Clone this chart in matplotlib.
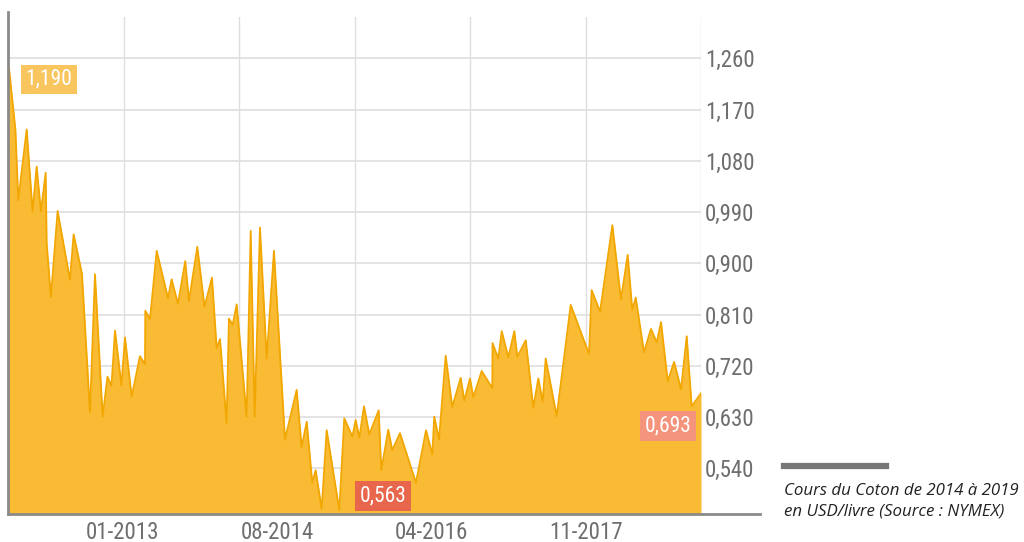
import numpy as np
import matplotlib
matplotlib.use("Agg")
import matplotlib.pyplot as plt
from matplotlib import font_manager

# cotton price (USD / lb), x in decimal years
dates = [
    2011.800, 2011.878, 2011.907, 2011.995, 2012.057, 2012.099, 2012.144, 2012.193,
    2012.204, 2012.248, 2012.318, 2012.447, 2012.485, 2012.572, 2012.656, 2012.708,
    2012.788, 2012.838, 2012.880, 2012.917, 2012.984, 2013.021, 2013.091, 2013.177,
    2013.230, 2013.233, 2013.282, 2013.352, 2013.470, 2013.508, 2013.574, 2013.650,
    2013.689, 2013.776, 2013.851, 2013.929, 2013.978, 2014.013, 2014.082, 2014.106,
    2014.145, 2014.187, 2014.291, 2014.333, 2014.375, 2014.430, 2014.500, 2014.576,
    2014.691, 2014.813, 2014.865, 2014.918, 2014.976, 2015.011, 2015.074, 2015.126,
    2015.258, 2015.310, 2015.394, 2015.429, 2015.467, 2015.516, 2015.571, 2015.669,
    2015.696, 2015.769, 2015.811, 2015.891, 2016.058, 2016.163, 2016.229, 2016.249,
    2016.299, 2016.368, 2016.437, 2016.525, 2016.563, 2016.622, 2016.657, 2016.744,
    2016.855, 2016.857, 2016.918, 2016.953, 2017.022, 2017.085, 2017.116, 2017.204,
    2017.283, 2017.335, 2017.381, 2017.412, 2017.527, 2017.673, 2017.864, 2017.892,
    2017.979, 2018.108, 2018.198, 2018.268, 2018.316, 2018.352, 2018.438, 2018.511,
    2018.571, 2018.616, 2018.686, 2018.752, 2018.825, 2018.884, 2018.936, 2019.033,
]
prices = [
    1.260, 1.134, 1.011, 1.135, 0.991, 1.070, 0.991, 1.059,
    0.935, 0.841, 0.992, 0.871, 0.951, 0.882, 0.639, 0.881,
    0.631, 0.701, 0.685, 0.782, 0.686, 0.770, 0.666, 0.737,
    0.723, 0.817, 0.802, 0.922, 0.839, 0.872, 0.829, 0.904,
    0.834, 0.929, 0.824, 0.875, 0.751, 0.767, 0.620, 0.803,
    0.792, 0.828, 0.631, 0.957, 0.631, 0.963, 0.733, 0.922,
    0.591, 0.678, 0.577, 0.622, 0.515, 0.537, 0.469, 0.607,
    0.467, 0.628, 0.596, 0.625, 0.594, 0.649, 0.600, 0.642,
    0.537, 0.608, 0.572, 0.602, 0.515, 0.607, 0.565, 0.631,
    0.591, 0.738, 0.648, 0.699, 0.659, 0.698, 0.665, 0.711,
    0.681, 0.760, 0.733, 0.781, 0.735, 0.781, 0.736, 0.765,
    0.647, 0.698, 0.657, 0.733, 0.632, 0.827, 0.741, 0.853,
    0.815, 0.967, 0.837, 0.915, 0.818, 0.840, 0.744, 0.785,
    0.761, 0.797, 0.693, 0.727, 0.679, 0.772, 0.649, 0.672,
]

x_tick_pos = [2013.0, 2014.611, 2016.222, 2017.833]
x_tick_labels = ["01-2013", "08-2014", "04-2016", "11-2017"]
y_ticks = [0.540, 0.630, 0.720, 0.810, 0.900, 0.990, 1.080, 1.170, 1.260]

# value callouts: text, x, y, box colour
callout_text = ["1,190", "0,563", "0,693"]
callout_x = [2012.228, 2015.714, 2018.689]
callout_y = [1.223, 0.492, 0.614]
callout_col = ["#F9C55E", "#E8664B", "#F4947C"]

XMIN, XMAX = 2011.800, 2019.033
YMIN, YMAX = 0.460, 1.3325

FILL = "#F9BB33"
LINE = "#F2A600"
GRID = "#DEDEDE"
AXIS = "#8A8A8A"
TXT = "#6E6E6E"

installed = {f.name for f in font_manager.fontManager.ttflist}
COND = next((f for f in ["Roboto Condensed", "Liberation Sans Narrow"] if f in installed), "Roboto")
plt.rcParams["font.family"] = [COND, "DejaVu Sans"]

fig = plt.figure(figsize=(10.24, 5.42), dpi=100)
ax = fig.add_axes([8 / 1024, 1 - 514 / 542, 693 / 1024, 497 / 542])

ax.fill_between(dates, prices, YMIN, color=FILL, lw=0, zorder=2)
ax.plot(dates, prices, color=LINE, lw=1.3, zorder=3)

ax.set_xlim(XMIN, XMAX)
ax.set_ylim(YMIN, YMAX)

for s in ax.spines.values():
    s.set_visible(False)

# vertical grid split in 6 equal parts, labels sit elsewhere
ax.set_xticks(np.linspace(XMIN, XMAX, 7), minor=True)
ax.set_xticks(x_tick_pos, x_tick_labels)
ax.grid(axis="x", which="minor", color=GRID, lw=1.0)
ax.grid(axis="x", which="major", visible=False)
ax.grid(axis="y", which="major", color=GRID, lw=1.2)
ax.set_axisbelow(True)

ax.yaxis.tick_right()
ax.set_yticks(y_ticks, [f"{v:.3f}".replace(".", ",") for v in y_ticks])
ax.tick_params(axis="y", length=0, pad=3, labelsize=16.5, labelcolor=TXT)
ax.tick_params(axis="x", which="both", length=0, pad=5, labelsize=16.5, labelcolor=TXT)

# axis lines: left one a bit taller, bottom one runs under the labels
ax.plot([0, 0], [0, 1.01], transform=ax.transAxes, clip_on=False, color=AXIS, lw=2, zorder=5)
ax.plot([0, 1.085], [0, 0], transform=ax.transAxes, clip_on=False, color=AXIS, lw=2, zorder=5)

for t, x, y, c in zip(callout_text, callout_x, callout_y, callout_col):
    ax.text(x, y, t, ha="center", va="center", color="white", fontsize=15.5, zorder=6,
            bbox=dict(boxstyle="square,pad=0.2", fc=c, ec="none"))

# legend block on the right
fig.add_artist(plt.Line2D([784 / 1024, 886 / 1024], [1 - 466 / 542] * 2,
                          transform=fig.transFigure, color="#777777", lw=4.5))
fig.text(784 / 1024, 1 - 491 / 542, "Cours du Coton de 2014 à 2019", family=["Open Sans", "DejaVu Sans"],
         style="italic", fontsize=12.2, color="#222222", va="center", ha="left")
fig.text(784 / 1024, 1 - 512 / 542, "en USD/livre (Source : NYMEX)", family=["Open Sans", "DejaVu Sans"],
         style="italic", fontsize=12.2, color="#222222", va="center", ha="left")

fig.savefig("out.png", dpi=100)
